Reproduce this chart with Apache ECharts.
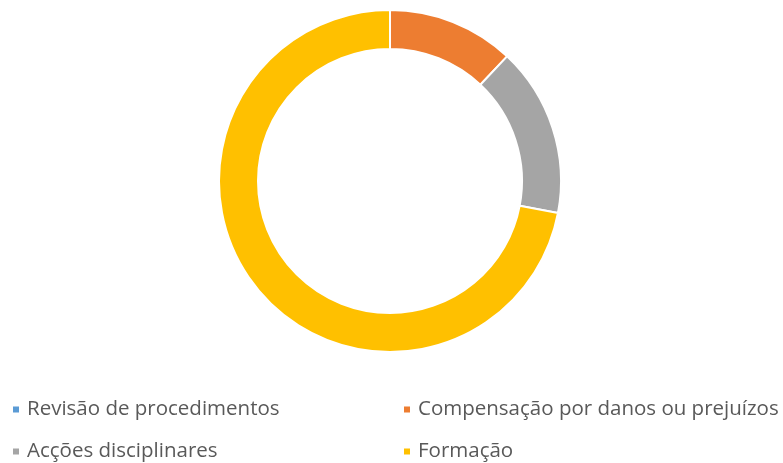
<!DOCTYPE html>
<html>
<head>
<meta charset="utf-8">
<script src="https://cdn.jsdelivr.net/npm/echarts@6/dist/echarts.min.js"></script>
<style>
  html, body { margin: 0; padding: 0; background: #fff; }
  #chart { width: 783px; height: 463px; }
</style>
</head>
<body>
<div id="chart"></div>
<script>
// categorias e valores do gráfico
var categories = ['Revisão de procedimentos', 'Compensação por danos ou prejuízos', 'Acções disciplinares', 'Formação']
var values = [0, 3, 4, 18]
var colors = ['#5B9BD5', '#ED7D31', '#A5A5A5', '#FFC000']

var chart = echarts.init(document.getElementById('chart'))

// posições da legenda (2 colunas x 2 linhas)
var legendPos = [
  { left: 6, top: 394 },
  { left: 397, top: 394 },
  { left: 6, top: 436 },
  { left: 397, top: 436 }
]

var legends = categories.map(function (name, i) {
  return {
    data: [name],
    left: legendPos[i].left,
    top: legendPos[i].top,
    icon: 'rect',
    itemWidth: 8,
    itemHeight: 8,
    itemGap: 0,
    selectedMode: false,
    textStyle: {
      fontFamily: 'Open Sans',
      fontSize: 20.5,
      color: '#595959',
      padding: [0, 0, 0, 2]
    }
  }
})

var option = {
  animation: false,
  color: colors,
  legend: legends,
  series: [{
    type: 'pie',
    center: [390, 181],
    radius: [132, 171],
    startAngle: 90,
    clockwise: true,
    label: { show: false },
    labelLine: { show: false },
    stillShowZeroSum: true,
    itemStyle: { borderColor: '#fff', borderWidth: 2 },
    emphasis: { disabled: true },
    data: categories.map(function (name, i) {
      return { name: name, value: values[i] }
    })
  }]
}
chart.setOption(option)
</script>
</body>
</html>
